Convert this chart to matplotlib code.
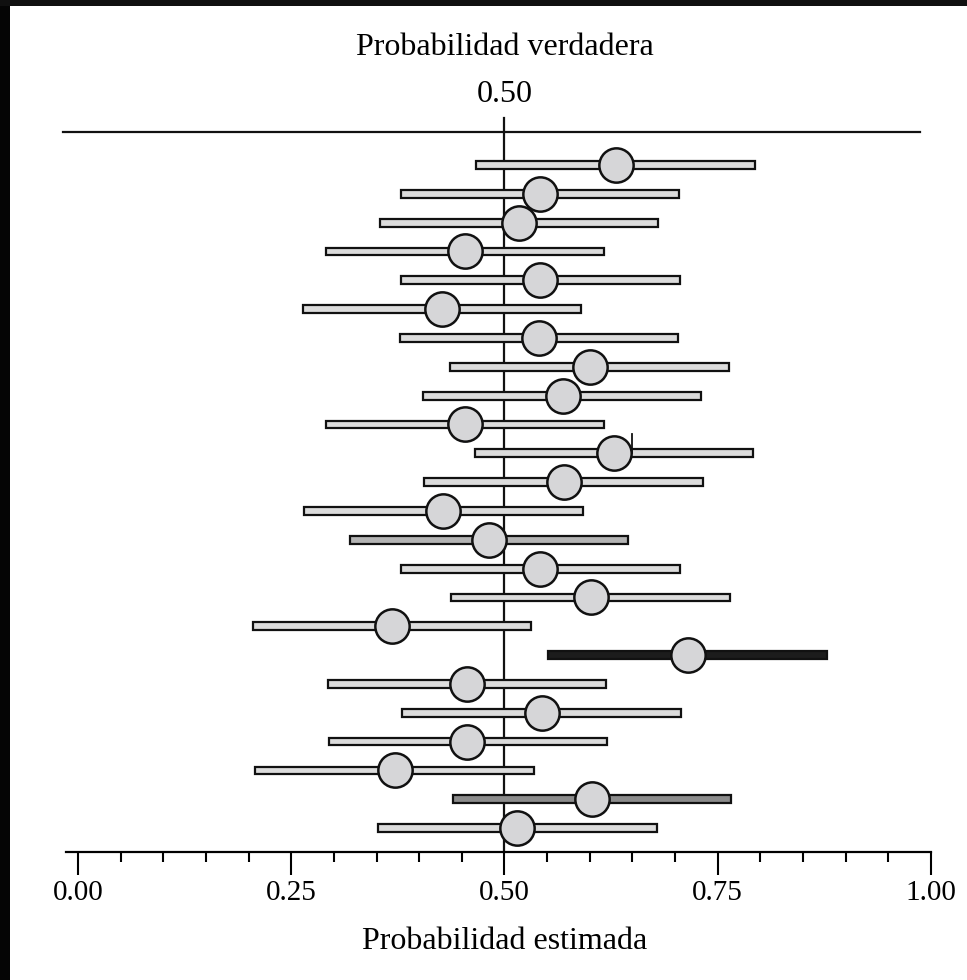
"""Forest-style plot: estimated probability intervals vs the true probability (0.50)."""

import matplotlib.pyplot as plt
from matplotlib.patches import Rectangle
from matplotlib.ticker import FixedLocator

plt.rcParams["font.family"] = ["Liberation Serif", "DejaVu Serif"]

# data, top row first
est = [0.631, 0.542, 0.517, 0.454, 0.542, 0.427, 0.540, 0.600, 0.569, 0.454,
       0.628, 0.570, 0.428, 0.482, 0.542, 0.601, 0.368, 0.715, 0.456, 0.544,
       0.456, 0.372, 0.603, 0.515]
lo = [0.467, 0.379, 0.354, 0.291, 0.379, 0.264, 0.377, 0.436, 0.404, 0.291,
      0.465, 0.406, 0.265, 0.319, 0.379, 0.437, 0.205, 0.551, 0.293, 0.380,
      0.294, 0.208, 0.440, 0.352]
hi = [0.794, 0.705, 0.680, 0.617, 0.706, 0.590, 0.703, 0.763, 0.730, 0.617,
      0.791, 0.733, 0.592, 0.645, 0.706, 0.764, 0.531, 0.878, 0.619, 0.707,
      0.620, 0.535, 0.766, 0.679]
bar_fill = ["#dcdcdc"] * 24
bar_fill[13] = "#b4b4b4"
bar_fill[17] = "#1c1c1c"
bar_fill[22] = "#8c8c8c"

true_p = 0.50
ticks_major = [0.0, 0.25, 0.50, 0.75, 1.0]
tick_labels = ["0.00", "0.25", "0.50", "0.75", "1.00"]
ticks_minor = [0.05, 0.10, 0.15, 0.20, 0.30, 0.35, 0.40, 0.45,
               0.55, 0.60, 0.65, 0.70, 0.80, 0.85, 0.90, 0.95]

fig = plt.figure(figsize=(9.67, 9.80), dpi=100)
ax = fig.add_axes([0, 0.1306, 1, 0.8694])
ax.set_xlim(-0.0914, 1.0422)
ax.set_ylim(23.83, -5.723)

bar_h = 0.27
for i, (a, b) in enumerate(zip(lo, hi)):
    ax.add_patch(Rectangle((a, i - bar_h / 2), b - a, bar_h,
                           facecolor=bar_fill[i], edgecolor="#111111",
                           linewidth=1.6, zorder=3))

ax.scatter(est, range(len(est)), s=610, facecolor="#d6d6d8",
           edgecolor="#111111", linewidth=1.8, zorder=4)

# small stray tick next to one of the points in the original
ax.plot([0.6495, 0.6495], [10, 9.34], color="#111111", lw=1.3, zorder=5)

# reference line at the true probability and the top rule
ax.plot([true_p, true_p], [-1.63, 23.83], color="#111111", lw=1.6, zorder=2,
        clip_on=False)
ax.plot([-0.0176, 0.987], [-1.145, -1.145], color="#111111", lw=1.6)

ax.text(true_p, -4.09, "Probabilidad verdadera", ha="center", va="center",
        fontsize=23)
ax.text(true_p, -2.43, "0.50", ha="center", va="center", fontsize=23)
ax.text(true_p, 26.95, "Probabilidad estimada", ha="center", va="center",
        fontsize=23, clip_on=False)

for side in ["top", "left", "right"]:
    ax.spines[side].set_visible(False)
ax.spines["bottom"].set_bounds(-0.014, 1.0)
ax.spines["bottom"].set_linewidth(1.6)
ax.set_yticks([])
ax.set_xticks(ticks_major, tick_labels, fontsize=21)
ax.xaxis.set_minor_locator(FixedLocator(ticks_minor))
ax.tick_params(axis="x", which="major", length=16.5, width=1.5, pad=4)
ax.tick_params(axis="x", which="minor", length=7.5, width=1.5)
ax.patch.set_visible(False)

# dark frame edges of the screenshot
fig.patches.append(Rectangle((0, 0), 10 / 967, 1, transform=fig.transFigure,
                             facecolor="#050505", edgecolor="none"))
fig.patches.append(Rectangle((0, 1 - 6 / 980), 1, 6 / 980,
                             transform=fig.transFigure,
                             facecolor="#101010", edgecolor="none"))

plt.savefig("out.png", dpi=100)
